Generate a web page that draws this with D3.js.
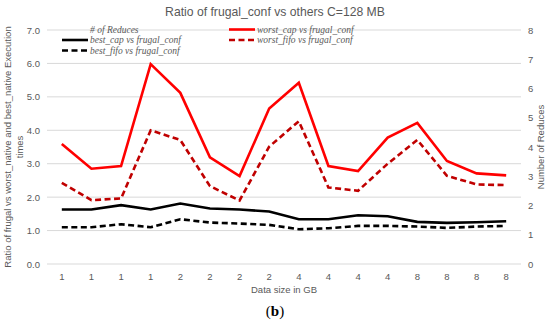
<!DOCTYPE html>
<html>
<head>
<meta charset="utf-8">
<script src="https://cdn.jsdelivr.net/npm/d3@7"></script>
<style>
  body { margin: 0; background: #fff; }
  text { fill: #595959; }
</style>
</head>
<body>
<div id="chart"></div>
<script>
// categories (data size in GB)
const sizes = ["1","1","1","1","2","2","2","2","4","4","4","4","8","8","8","8"];

// series values, ratio vs frugal_conf
const worstCap  = [3.59, 2.85, 2.93, 5.98, 5.12, 3.19, 2.63, 4.65, 5.42, 2.93, 2.78, 3.78, 4.22, 3.08, 2.71, 2.65];
const worstFifo = [2.43, 1.91, 1.96, 4.00, 3.71, 2.33, 1.90, 3.51, 4.27, 2.29, 2.19, 3.00, 3.71, 2.64, 2.38, 2.36];
const bestCap   = [1.63, 1.63, 1.76, 1.63, 1.81, 1.66, 1.63, 1.57, 1.34, 1.34, 1.46, 1.43, 1.26, 1.23, 1.25, 1.28];
const bestFifo  = [1.10, 1.10, 1.19, 1.10, 1.34, 1.24, 1.21, 1.17, 1.04, 1.07, 1.14, 1.14, 1.12, 1.08, 1.12, 1.14];

const leftTicks  = [0, 1, 2, 3, 4, 5, 6, 7];
const rightTicks = [0, 1, 2, 3, 4, 5, 6, 7, 8];

const width = 550, height = 322;
const margin = {top: 30, right: 29, bottom: 58, left: 47};

const svg = d3.select("#chart").append("svg")
    .attr("width", width)
    .attr("height", height)
    .style("font-family", "'Liberation Sans', Arial, sans-serif");

const x = d3.scaleBand()
    .domain(d3.range(sizes.length))
    .range([margin.left, width - margin.right]);

const y = d3.scaleLinear()
    .domain([0, 7])
    .range([height - margin.bottom, margin.top]);

const y2 = d3.scaleLinear()
    .domain([0, 8])
    .range([height - margin.bottom, margin.top]);

// gridlines
svg.append("g")
    .selectAll("line")
    .data(leftTicks)
    .join("line")
    .attr("x1", margin.left)
    .attr("x2", width - margin.right)
    .attr("y1", d => y(d))
    .attr("y2", d => y(d))
    .attr("stroke", "#d9d9d9")
    .attr("stroke-width", 1);

// left axis
const yAxis = d3.axisLeft(y).tickValues(leftTicks).tickFormat(d3.format(".1f")).tickSize(0).tickPadding(7);
svg.append("g")
    .attr("transform", "translate(" + margin.left + ",0)")
    .call(yAxis)
    .call(g => g.select(".domain").remove())
    .selectAll("text")
    .attr("font-size", 9.5)
    .attr("fill", "#595959");

// right axis
const y2Axis = d3.axisRight(y2).tickValues(rightTicks).tickSize(0).tickPadding(7);
svg.append("g")
    .attr("transform", "translate(" + (width - margin.right) + ",0)")
    .call(y2Axis)
    .call(g => g.select(".domain").remove())
    .selectAll("text")
    .attr("font-size", 9.5)
    .attr("fill", "#595959");

// x axis
const xAxis = d3.axisBottom(x).tickFormat(i => sizes[i]).tickSize(0).tickPadding(9);
svg.append("g")
    .attr("transform", "translate(0," + (height - margin.bottom) + ")")
    .call(xAxis)
    .call(g => g.select(".domain").remove())
    .selectAll("text")
    .attr("font-size", 9.5)
    .attr("fill", "#595959");

// lines
const series = [
    {name: "worst_cap vs frugal_conf",  values: worstCap,  color: "#ff0000", dash: null},
    {name: "worst_fifo vs frugal_conf", values: worstFifo, color: "#c00000", dash: "6,3.5"},
    {name: "best_cap vs frugal_conf",   values: bestCap,   color: "#000000", dash: null},
    {name: "best_fifo vs frugal_conf",  values: bestFifo,  color: "#000000", dash: "6,3.5"}
];

const line = d3.line()
    .x((d, i) => x(i) + x.bandwidth() / 2)
    .y(d => y(d));

svg.append("g")
    .selectAll("path")
    .data(series)
    .join("path")
    .attr("d", d => line(d.values))
    .attr("fill", "none")
    .attr("stroke", d => d.color)
    .attr("stroke-width", 2.6)
    .attr("stroke-dasharray", d => d.dash)
    .attr("stroke-linejoin", "miter");

// legend
const legendItems = [
    {name: "# of Reduces",              color: null,      dash: null,    lx: 62,  ly: 29.5},
    {name: "best_cap vs frugal_conf",   color: "#000000", dash: null,    lx: 62,  ly: 40},
    {name: "best_fifo vs frugal_conf",  color: "#000000", dash: "6,3.5", lx: 62,  ly: 50.5},
    {name: "worst_cap vs frugal_conf",  color: "#ff0000", dash: null,    lx: 229, ly: 29.5},
    {name: "worst_fifo vs frugal_conf", color: "#c00000", dash: "6,3.5", lx: 229, ly: 40}
];

const legend = svg.append("g")
    .selectAll("g")
    .data(legendItems)
    .join("g")
    .attr("transform", d => "translate(" + d.lx + "," + d.ly + ")");

legend.filter(d => d.color)
    .append("line")
    .attr("x1", 0)
    .attr("x2", 26)
    .attr("stroke", d => d.color)
    .attr("stroke-width", 2.6)
    .attr("stroke-dasharray", d => d.dash);

legend.append("text")
    .attr("x", 28)
    .attr("dy", "0.32em")
    .attr("font-family", "'Liberation Serif', 'DejaVu Serif', serif")
    .attr("font-style", "italic")
    .attr("font-size", 9.5)
    .text(d => d.name);

// titles
svg.append("text")
    .attr("x", width / 2)
    .attr("y", 16)
    .attr("text-anchor", "middle")
    .attr("font-size", 12.2)
    .text("Ratio of frugal_conf vs others C=128 MB");

const cy = (margin.top + height - margin.bottom) / 2;

svg.append("text")
    .attr("transform", "translate(11," + cy + ") rotate(-90)")
    .attr("text-anchor", "middle")
    .attr("font-size", 9.5)
    .text("Ratio of frugal vs worst_native and best_native Execution");

svg.append("text")
    .attr("transform", "translate(23," + cy + ") rotate(-90)")
    .attr("text-anchor", "middle")
    .attr("font-size", 9.5)
    .text("times");

svg.append("text")
    .attr("transform", "translate(544," + cy + ") rotate(-90)")
    .attr("text-anchor", "middle")
    .attr("font-size", 9.5)
    .text("Number of Reduces");

svg.append("text")
    .attr("x", (margin.left + width - margin.right) / 2)
    .attr("y", 293)
    .attr("text-anchor", "middle")
    .attr("font-size", 9.5)
    .text("Data size in GB");

svg.append("text")
    .attr("x", width / 2)
    .attr("y", 316)
    .attr("text-anchor", "middle")
    .attr("font-family", "'Liberation Serif', serif")
    .attr("font-size", 15)
    .style("fill", "#000")
    .text("(")
    .append("tspan").attr("font-weight", "bold").text("b")
    .select(function () { return this.parentNode; })
    .append("tspan").text(")");
</script>
</body>
</html>
